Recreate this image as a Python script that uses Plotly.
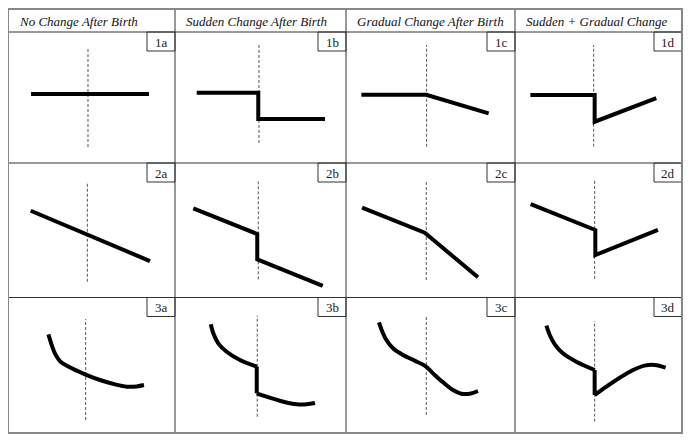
import plotly.graph_objects as go

# page body has an 8px margin, so the figure is drawn 8px smaller and shifted
OFF = 8
W, H = 693 - OFF, 441 - OFF

# ---------------- data (panel units 0-100, y up) ----------------
headers = ["No Change After Birth", "Sudden Change After Birth",
           "Gradual Change After Birth", "Sudden + Gradual Change"]
labels = [["1a", "1b", "1c", "1d"], ["2a", "2b", "2c", "2d"], ["3a", "3b", "3c", "3d"]]

# birth (dashed) lines: x, y bottom, y top
birth_x = [[47.9, 49.1, 47.7, 47.1], [47.5, 48.7, 47.5, 47.7], [46.5, 48.1, 47.5, 47.7]]
birth_y0 = [[12.2, 15.3, 12.4, 12.4], [11.7, 13.5, 13.0, 13.8], [9.6, 12.0, 13.3, 8.4]]
birth_y1 = [[88.5, 91.6, 90.1, 90.1], [85.4, 87.4, 87.4, 88.1], [84.1, 86.6, 87.1, 82.7]]

# row 1
x_1a = [13.8, 84.4]
y_1a = [52.7, 52.7]
x_1b = [12.7, 48.7, 48.7, 87.7]
y_1b = [53.7, 53.7, 33.6, 33.6]
x_1c = [9.1, 47.5, 84.4]
y_1c = [52.1, 52.1, 37.9]
x_1d = [9.2, 47.7, 47.7, 84.6]
y_1d = [51.9, 51.9, 31.5, 49.6]

# row 2
x_2a = [13.6, 85.0]
y_2a = [64.5, 27.1]
x_2b = [10.7, 48.1, 48.1, 86.4]
y_2b = [66.3, 47.2, 28.4, 8.6]
x_2c = [9.5, 46.6, 78.1]
y_2c = [66.8, 48.2, 15.0]
x_2d = [9.4, 48.1, 48.1, 85.6]
y_2d = [69.5, 50.2, 31.6, 50.2]

# row 3 (curves)
x_3a = [24.2, 26.2, 28.1, 31.1, 36.1, 46.1, 55.1, 64.1, 71.1, 77.1, 81.4]
y_3a = [72.8, 64.9, 58.8, 53.1, 49.0, 43.3, 39.1, 35.9, 34.2, 34.4, 35.4]
x_3b_pre = [20.9, 22.4, 25.3, 30.2, 38.0, 47.8]
y_3b_pre = [80.2, 73.6, 66.2, 60.0, 53.9, 49.0]
x_3b_post = [47.8, 53.6, 63.4, 71.2, 77.0, 81.9]
y_3b_post = [29.3, 26.8, 23.1, 21.2, 21.2, 22.1]
x_3c = [19.5, 21.5, 23.9, 27.8, 33.7, 40.6, 46.6, 51.5, 57.4, 63.3, 68.2, 73.2, 78.1]
y_3c = [81.7, 74.8, 68.6, 62.5, 57.6, 53.4, 49.7, 44.0, 37.4, 31.7, 29.0, 29.0, 31.0]
x_3d_pre = [18.8, 20.8, 23.8, 28.7, 36.7, 47.7]
y_3d_pre = [79.2, 72.3, 65.4, 58.8, 52.6, 46.5]
x_3d_post = [47.7, 54.7, 62.7, 70.7, 77.6, 83.6, 90.2]
y_3d_post = [28.0, 34.2, 40.8, 46.5, 49.7, 50.2, 48.2]

# ---------------- layout geometry (window pixels) ----------------
col_edges = [8, 175, 346, 515, 682]
row_edges = [9, 32, 163, 297.5, 433]


def px(x):
    return (x - OFF) / W


def py(y):
    return 1 - (y - OFF) / H


fig = go.Figure()
LINE = dict(color="black", width=4)

panel_series = {
    "1a": [(x_1a, y_1a, "linear")],
    "1b": [(x_1b, y_1b, "linear")],
    "1c": [(x_1c, y_1c, "linear")],
    "1d": [(x_1d, y_1d, "linear")],
    "2a": [(x_2a, y_2a, "linear")],
    "2b": [(x_2b, y_2b, "linear")],
    "2c": [(x_2c, y_2c, "linear")],
    "2d": [(x_2d, y_2d, "linear")],
    "3a": [(x_3a, y_3a, "spline")],
    "3b": [(x_3b_pre, y_3b_pre, "spline"),
           ([x_3b_pre[-1], x_3b_post[0]], [y_3b_pre[-1], y_3b_post[0]], "linear"),
           (x_3b_post, y_3b_post, "spline")],
    "3c": [(x_3c, y_3c, "spline")],
    "3d": [(x_3d_pre, y_3d_pre, "spline"),
           ([x_3d_pre[-1], x_3d_post[0]], [y_3d_pre[-1], y_3d_post[0]], "linear"),
           (x_3d_post, y_3d_post, "spline")],
}

shapes = []
annotations = []
layout_axes = {}

k = 0
for r in range(3):
    for c in range(4):
        k += 1
        lab = labels[r][c]
        xa = "x" if k == 1 else f"x{k}"
        ya = "y" if k == 1 else f"y{k}"
        xname = "xaxis" if k == 1 else f"xaxis{k}"
        yname = "yaxis" if k == 1 else f"yaxis{k}"
        x0, x1 = col_edges[c], col_edges[c + 1]
        y0, y1 = row_edges[r + 1], row_edges[r + 2]
        layout_axes[xname] = dict(domain=[px(x0), px(x1)], range=[0, 100], visible=False,
                                  fixedrange=True, anchor=ya)
        layout_axes[yname] = dict(domain=[py(y1), py(y0)], range=[0, 100], visible=False,
                                  fixedrange=True, anchor=xa)
        fig.add_trace(go.Scatter(x=[birth_x[r][c], birth_x[r][c]],
                                 y=[birth_y0[r][c], birth_y1[r][c]],
                                 mode="lines", xaxis=xa, yaxis=ya, hoverinfo="skip",
                                 line=dict(color="#555555", width=1, dash="3px,2px"),
                                 showlegend=False))
        for sx, sy, shp in panel_series[lab]:
            fig.add_trace(go.Scatter(x=sx, y=sy, mode="lines", xaxis=xa, yaxis=ya,
                                     line=dict(LINE, shape=shp, smoothing=1.0),
                                     showlegend=False, hoverinfo="skip"))
        bx0, bx1 = x1 - 28, x1
        by0, by1 = y0, y0 + 19
        shapes.append(dict(type="rect", xref="paper", yref="paper",
                           x0=px(bx0), x1=px(bx1), y0=py(by1), y1=py(by0),
                           line=dict(color="#333333", width=1), fillcolor="white", layer="above"))
        annotations.append(dict(text=lab, xref="paper", yref="paper",
                                x=px((bx0 + bx1) / 2), y=py((by0 + by1) / 2 + 0.5),
                                xanchor="center", yanchor="middle", showarrow=False,
                                font=dict(family="Liberation Serif", size=13, color="#222")))

for c in range(4):
    annotations.append(dict(text=f"<i>{headers[c]}</i>", xref="paper", yref="paper",
                            x=px(col_edges[c] + 9), y=py(21),
                            xanchor="left", yanchor="middle", showarrow=False,
                            font=dict(family="Liberation Serif", size=13, color="#111")))

for xe in col_edges[1:-1]:
    shapes.append(dict(type="line", xref="paper", yref="paper",
                       x0=px(xe), x1=px(xe), y0=py(row_edges[-1]), y1=py(row_edges[0]),
                       line=dict(color="#333333", width=1)))
for ye in row_edges[1:-1]:
    shapes.append(dict(type="line", xref="paper", yref="paper",
                       x0=px(col_edges[0]), x1=px(col_edges[-1]), y0=py(ye), y1=py(ye),
                       line=dict(color="#333333", width=1)))
shapes.append(dict(type="rect", xref="paper", yref="paper",
                   x0=px(col_edges[0]), x1=px(col_edges[-1]),
                   y0=py(row_edges[-1]), y1=py(row_edges[0]),
                   line=dict(color="#888888", width=2)))

fig.update_layout(width=W, height=H, margin=dict(l=0, r=0, t=0, b=0),
                  paper_bgcolor="white", plot_bgcolor="white",
                  shapes=shapes, annotations=annotations, showlegend=False,
                  **layout_axes)

fig.write_html("out.html", config={"displayModeBar": False})
